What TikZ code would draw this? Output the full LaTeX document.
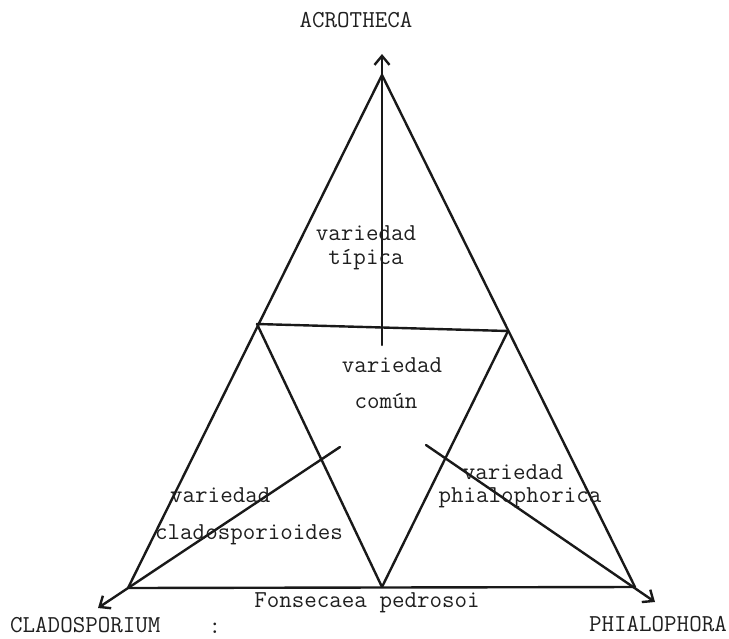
\documentclass[tikz,border=0pt]{standalone}
\usepackage{fontspec}
\usetikzlibrary{arrows.meta}
\begin{document}
\begin{tikzpicture}[x=1pt,y=-1pt,
  edge/.style={line width=2.4pt, line cap=round, line join=round, draw=black!90},
  arr/.style={edge, -{Straight Barb[length=9pt,width=15pt,line width=2.4pt]}},
  lbl/.style={font=\ttfamily\fontsize{24.3}{28}\selectfont, text=black!88, inner sep=0pt, anchor=mid}]
\useasboundingbox (0,0) rectangle (729,638);
% vertices
\coordinate (A) at (382,75);
\coordinate (L) at (128,588);
\coordinate (R) at (635,587);
\coordinate (ML) at (257,324);
\coordinate (MR) at (508,331);
\coordinate (MB) at (382,587);
% arrow ends
\coordinate (Atip) at (382,54);
\coordinate (Ltip) at (98,608);
\coordinate (Rtip) at (655,602);
\coordinate (Vs) at (382,345);
\coordinate (Ls) at (340,447);
\coordinate (Rs) at (426,445);
% triangles
\draw[edge] (L) -- (A) -- (R) -- cycle;
\draw[edge] (ML) -- (MR);
\draw[edge] (ML) -- (MB) -- (MR);
% arrows
\draw[arr] (Vs) -- (Atip);
\draw[arr] (Ls) -- (Ltip);
\draw[arr] (Rs) -- (Rtip);
% labels
\node[lbl] (acro) at (356,25) {ACROTHECA};
\node[lbl] (tip1) at (366,238) {variedad};
\node[lbl] (tip2) at (366,262) {típica};
\node[lbl] (com1) at (392,370) {variedad};
\node[lbl] (com2) at (386,406) {común};
\node[lbl, anchor=mid west] (cla1) at (170,500) {variedad};
\node[lbl, anchor=mid west] (cla2) at (155,537) {cladosporioides};
\node[lbl] (phi1) at (513,477) {variedad};
\node[lbl] (phi2) at (520,500) {phialophorica};
\node[lbl] (fons) at (367,605) {Fonsecaea pedrosoi};
\node[lbl, anchor=mid west] (clad) at (10,630) {CLADOSPORIUM};
\node[lbl] (colon) at (215,631) {:};
\node[lbl, anchor=mid east] (phia) at (727,629) {PHIALOPHORA};
\end{tikzpicture}
\end{document}
